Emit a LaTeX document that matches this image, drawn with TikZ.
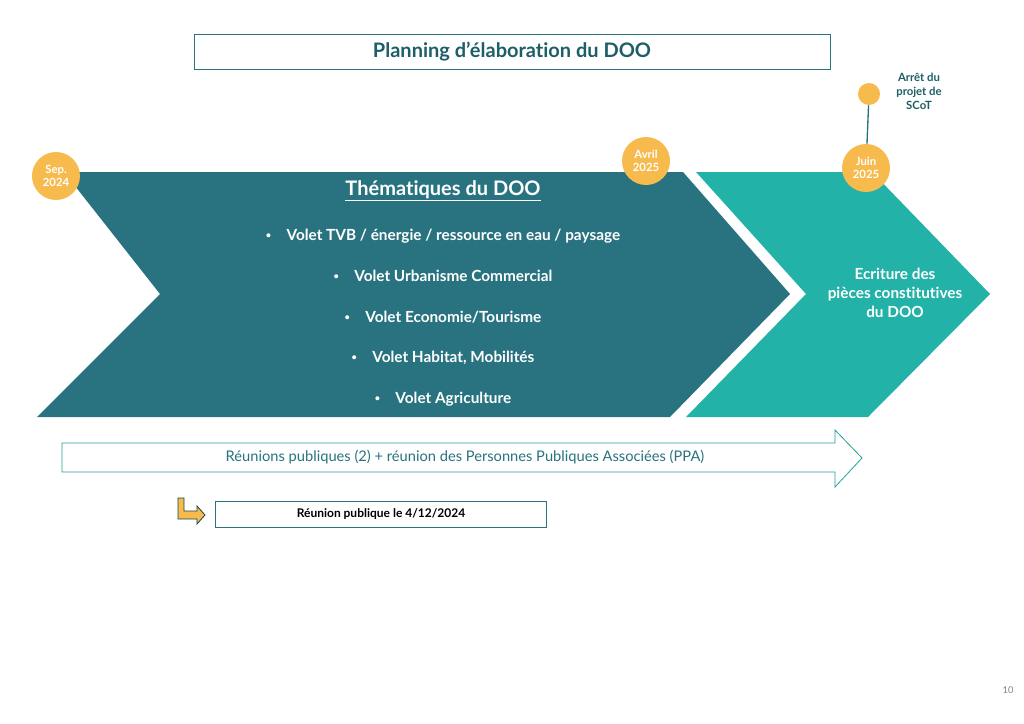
\documentclass[tikz,border=0pt]{standalone}
\usepackage{fontspec}
\setmainfont{Lato}[Ligatures={NoCommon,TeX}]
\begin{document}
\begin{tikzpicture}[x=0.75pt,y=-0.75pt,
  dot/.style={circle,fill=org,draw=none,minimum size=48*0.75pt,inner sep=0pt,text=white,font=\bfseries\fontsize{8.5}{10}\selectfont,align=center},
  wt/.style={text=white,font=\bfseries\fontsize{11.5}{14}\selectfont},
  box/.style={draw=dteal,line width=0.6pt,fill=white}]
\definecolor{dteal}{HTML}{28737F}
\definecolor{lteal}{HTML}{22B2A7}
\definecolor{org}{HTML}{F7BA4C}
\definecolor{ttl}{HTML}{1E5E66}
\newcommand{\bul}{\raisebox{0.25ex}{\scalebox{0.6}{\textbullet}}\quad}
\useasboundingbox (0,0) rectangle (1024,724);
% title
\node[box,minimum width=636*0.75pt,minimum height=35*0.75pt,text=ttl,font=\bfseries\fontsize{15}{17}\selectfont] (title) at (512,52) {Planning d’élaboration du DOO};
% chevrons
\fill[dteal] (64,172) -- (683,172) -- (790,294) -- (670,417) -- (37,417) -- (160,294) -- cycle;
\fill[lteal] (696,172) -- (872,172) -- (990,294) -- (868,417) -- (686,417) -- (806,294) -- cycle;
\node[wt,font=\bfseries\fontsize{15}{17}\selectfont] (th) at (443,191) {\underline{Thématiques du DOO}};
\node[wt] (v1) at (443,236) {\bul Volet TVB / énergie / ressource en eau / paysage};
\node[wt] (v2) at (443,276) {\bul Volet Urbanisme Commercial};
\node[wt] (v3) at (443,317) {\bul Volet Economie/Tourisme};
\node[wt] (v4) at (443,358) {\bul Volet Habitat, Mobilités};
\node[wt] (v5) at (443,399) {\bul Volet Agriculture};
\node[wt,align=center] (ecr) at (895,293) {Ecriture des\\pièces constitutives\\du DOO};
% dots
\node[dot] (sep) at (56,176) {Sep.\\2024};
\node[dot] (avr) at (646,161) {Avril\\2025};
\node[dot] (juin) at (866,168) {Juin\\2025};
\node[circle,fill=org,minimum size=22*0.75pt,inner sep=0pt] (arr) at (869,94) {};
\draw[dteal,line width=1pt] (arr) -- (juin);
\node[text=ttl,font=\bfseries\fontsize{8.5}{10.5}\selectfont,align=center] (arrt) at (919,91) {Arrêt du\\projet de\\SCoT};
% long arrow
\draw[lteal!70!dteal,line width=0.6pt,fill=white] (62,443) -- (835,443) -- (835,430) -- (862,458) -- (835,487) -- (835,472) -- (62,472) -- cycle;
\node[text=dteal,font=\fontsize{11}{13}\selectfont] (reu) at (465,457) {Réunions publiques (2) + réunion des Personnes Publiques Associées (PPA)};
% small box
\node[box,minimum width=331*0.75pt,minimum height=26*0.75pt,font=\bfseries\fontsize{9}{11}\selectfont] (pub) at (381,514) {Réunion publique le 4/12/2024};
\draw[fill=org,draw=dteal!60!black,line width=0.6pt] (178,498) -- (184,498) -- (184,511) -- (197,511) -- (197,506) -- (205,515) -- (197,524) -- (197,519) -- (178,519) -- cycle;
\node[text=gray,font=\fontsize{7}{8}\selectfont] (pg) at (1008,690) {10};
\end{tikzpicture}
\end{document}
